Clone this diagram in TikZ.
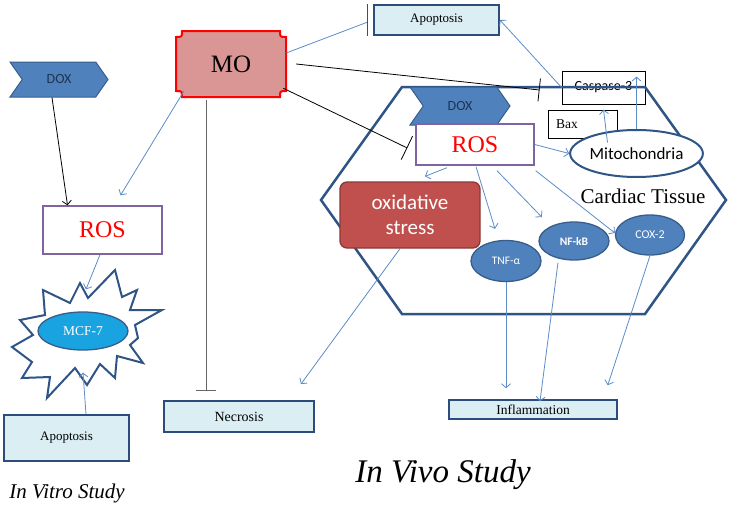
\documentclass[tikz,border=0pt]{standalone}
\usepackage{fontspec}
\setmainfont{Liberation Serif}
\setsansfont{Carlito}
\usetikzlibrary{shapes.geometric,shapes.symbols,arrows.meta}

\definecolor{doxblue}{HTML}{4F81BD}
\definecolor{doxline}{HTML}{385D8A}
\definecolor{doxtext}{HTML}{1F3550}
\definecolor{rospurple}{HTML}{8064A2}
\definecolor{mopink}{HTML}{D99694}
\definecolor{boxfill}{HTML}{DBEEF4}
\definecolor{boxline}{HTML}{2C4D7C}
\definecolor{hexline}{HTML}{2E5585}
\definecolor{stressred}{HTML}{C0504D}
\definecolor{stressline}{HTML}{8C3836}
\definecolor{mcfcyan}{HTML}{1AA3E1}
\definecolor{arrowblue}{HTML}{5B8CC8}

\begin{document}
\begin{tikzpicture}[x=1pt,y=-1pt,
    doxsig/.style={signal,signal from=west,signal to=east,signal pointer angle=110,
      fill=doxblue,draw=doxline,line width=1pt,inner sep=0pt,text=doxtext,
      font=\sffamily\fontsize{14}{17}\selectfont},
    rosbox/.style={draw=rospurple,line width=1.4pt,fill=white,text=red,inner sep=0pt,
      font=\fontsize{24}{28}\selectfont},
    bluebox/.style={draw=boxline,line width=1.8pt,fill=boxfill,inner sep=0pt,
      font=\fontsize{13}{15}\selectfont},
    plainbox/.style={draw=black,line width=0.8pt,fill=white,inner sep=0pt},
    cyto/.style={ellipse,draw=doxline,line width=1.3pt,fill=doxblue,text=white,inner sep=0pt,
      font=\sffamily\fontsize{11.5}{13}\selectfont},
    arr/.style={draw=arrowblue,line width=0.8pt,-{Straight Barb[length=4pt,width=9pt]}},
    inhib/.style={line width=0.8pt,-{Bar[width=#1]}},
    inhib/.default=20pt]

  \useasboundingbox (0,0) rectangle (731,506);

  % in vitro side
  \node (doxL) [doxsig,minimum width=98pt,minimum height=35pt] at (59,79.5) {DOX};
  \node (rosL) [rosbox,minimum width=119pt,minimum height=48pt] at (102.5,230) {ROS};
  \draw[draw=hexline,line width=2pt,fill=white,line join=miter]
    (115,270) -- (122,297) -- (137,290) -- (130,310) -- (162,310) -- (135,325)
    -- (138,338) -- (130,345) -- (143,363) -- (117,356) -- (115,378) -- (100,364)
    -- (87,385) -- (75,368) -- (47,398) -- (50,377) -- (22,378) -- (32,362)
    -- (12,347) -- (33,335) -- (20,320) -- (45,315) -- (43,290) -- (70,303)
    -- (80,283) -- (88,298) -- cycle;
  \node (mcf) [ellipse,draw=doxline,line width=1.3pt,fill=mcfcyan,text=white,inner sep=0pt,
    minimum width=90pt,minimum height=38pt,font=\fontsize{13.5}{16}\selectfont] at (83,331) {MCF-7};
  \node (apoL) [bluebox,minimum width=125pt,minimum height=46pt] at (66.5,438) {Apoptosis};
  \node (vitro) [anchor=base,font=\itshape\fontsize{21}{25}\selectfont] at (67,498) {In Vitro Study};

  % MO
  \filldraw[fill=mopink,draw=red,line width=2pt]
    (182,31) -- (280,31) .. controls (280,37) .. (286,37) -- (286,91)
    .. controls (280,91) .. (280,97) -- (182,97) .. controls (182,91) .. (176,91)
    -- (176,37) .. controls (182,37) .. (182,31) -- cycle;
  \node (mo) [minimum width=110pt,minimum height=66pt,inner sep=0pt,
    font=\fontsize{25}{30}\selectfont] at (231,64) {MO};

  % in vivo side
  \node (apoT) [bluebox,minimum width=125pt,minimum height=30pt] at (436.5,20) {Apoptosis};
  \node (necr) [bluebox,minimum width=150pt,minimum height=31pt,
    font=\fontsize{14}{16}\selectfont] at (239,416.5) {Necrosis};
  \node (infl) [bluebox,line width=1.5pt,minimum width=168pt,minimum height=19pt,
    font=\fontsize{13.5}{15}\selectfont] at (533,409.5) {Inflammation};
  \node (casp) [plainbox,minimum width=83pt,minimum height=33pt,
    font=\sffamily\fontsize{14}{16}\selectfont] at (603.5,87.5) {\raisebox{4pt}{Caspase-3}};

  \draw[hexline,line width=2.5pt,line join=miter]
    (402,87) -- (645,87) -- (726,200) -- (645,314) -- (402,314) -- (321,200) -- cycle;

  \node (doxR) [doxsig,minimum width=100pt,minimum height=38pt] at (460,106) {DOX};
  \node (rosR) [rosbox,minimum width=118pt,minimum height=41pt] at (475,144.5) {ROS};
  \node (bax) [plainbox,minimum width=69pt,minimum height=28pt,text width=53pt,align=left,
    font=\fontsize{13.5}{16}\selectfont] at (582.5,124) {Bax};
  \node (mito) [ellipse,draw=hexline,line width=2pt,fill=white,inner sep=0pt,
    minimum width=107pt,minimum height=47pt,font=\sffamily\fontsize{17}{20}\selectfont]
    at (636.5,153.5) {Mitochondria};
  \node (tissue) [anchor=base,font=\fontsize{21}{25}\selectfont] at (643,203) {Cardiac Tissue};
  \node (oxst) [rectangle,rounded corners=7pt,fill=stressred,draw=stressline,line width=1.3pt,
    minimum width=140pt,minimum height=66pt,inner sep=0pt,text=white,align=center,
    font=\sffamily\fontsize{21}{25}\selectfont] at (410,215) {oxidative\\stress};
  \node (tnf) [cyto,minimum width=70pt,minimum height=41pt] at (506,261) {TNF-α};
  \node (nfkb) [cyto,minimum width=70pt,minimum height=38pt] at (574,241) {\bfseries NF-kB};
  \node (cox) [cyto,minimum width=69pt,minimum height=40pt,
    font=\sffamily\fontsize{12}{14}\selectfont] at (650,235) {COX-2};
  \node (vivo) [anchor=base,font=\itshape\fontsize{33}{38}\selectfont] at (443,482) {In Vivo Study};

  % connectors, in vitro
  \draw[line width=0.8pt,-{Straight Barb[length=4pt,width=9pt]}]
    ([xshift=-7pt]doxL.south) -- ([xshift=-35pt]rosL.north);
  \draw[arr] ([shift={(8,-6)}]mo.south west) -- ([shift={(18,-10)}]rosL.north);
  \draw[arr] ([xshift=-2.5pt]rosL.south) -- ([shift={(3,-22)}]mcf.north);
  \draw[arr] ([xshift=19.5pt]apoL.north) -- ([shift={(0,22)}]mcf.south);

  % connectors from MO
  \draw[arrowblue,line width=0.8pt,shorten >=6pt] ([shift={(0,-11)}]mo.east) -- (apoT.west);
  \draw[black!70,line width=0.8pt] ([xshift=-6pt]apoT.north west) -- ([xshift=-6pt]apoT.south west);
  \draw[inhib=23pt] ([xshift=10pt]mo.east) -- ([shift={(-22,2.5)}]casp.west);
  \draw[inhib=26pt] ([shift={(-3,-9)}]mo.south east) -- ([shift={(-8,3.5)}]rosR.west);
  \draw[black!60,inhib=20pt] ([shift={(-25,3)}]mo.south) -- ([shift={(-33,-9)}]necr.north);

  % connectors, in vivo
  \draw[arr] (casp.west) -- (apoT.east);
  \draw[arr] (rosR.east) -- (mito.west);
  \draw[arr] ([shift={(-29,-11)}]mito.center) -- ([xshift=21pt]bax.north);
  \draw[arr,shorten >=6pt] (mito.north) -- (mito.north |- casp.north);
  \draw[arr] ([shift={(-28,2)}]rosR.south) -- ([shift={(15,-5)}]oxst.north);
  \draw[arr] ([shift={(1,1)}]rosR.south) -- ([shift={(-11,-11)}]tnf.north);
  \draw[arr] ([shift={(22,5)}]rosR.south) -- ([shift={(-7,-10)}]nfkb.north west);
  \draw[arr] ([shift={(1,5)}]rosR.south east) -- ([shift={(0,-2)}]cox.west);
  \draw[arr] ([xshift=-10pt]oxst.south) -- ([shift={(-14,-16)}]necr.north east);
  \draw[arr] (tnf.south) -- ([shift={(-27,-11)}]infl.north);
  \draw[arr] ([shift={(-16,2)}]nfkb.south) -- ([shift={(7,2)}]infl.north);
  \draw[arr] (cox.south) -- ([shift={(-10,-14)}]infl.north east);

\end{tikzpicture}
\end{document}
